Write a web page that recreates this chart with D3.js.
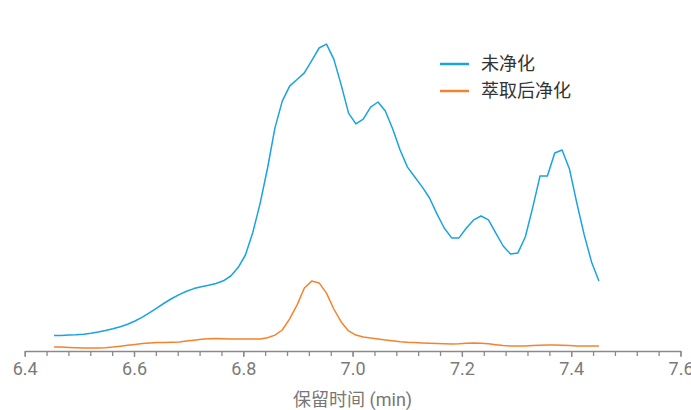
<!DOCTYPE html>
<html>
<head>
<meta charset="utf-8">
<script src="https://cdn.jsdelivr.net/npm/d3@7/dist/d3.min.js"></script>
<style>
  html, body { margin: 0; padding: 0; background: #fff; }
  svg { display: block; }
  text { font-family: Roboto, "Noto Sans CJK SC", "Noto Sans", sans-serif; }
</style>
</head>
<body>
<svg id="chart" width="691" height="410"></svg>
<script>
// Retention time (min) for each sampled point
const times = [
  6.4536, 6.4671, 6.4805, 6.4940, 6.5075, 6.5210, 6.5344, 6.5479, 6.5614, 6.5749,
  6.5883, 6.6018, 6.6153, 6.6288, 6.6422, 6.6557, 6.6692, 6.6827, 6.6961, 6.7096,
  6.7231, 6.7366, 6.7500, 6.7635, 6.7770, 6.7905, 6.8039, 6.8174, 6.8309, 6.8444,
  6.8578, 6.8713, 6.8848, 6.8983, 6.9117, 6.9252, 6.9387, 6.9522, 6.9656, 6.9791,
  6.9926, 7.0060, 7.0195, 7.0330, 7.0465, 7.0599, 7.0734, 7.0869, 7.1004, 7.1138,
  7.1273, 7.1408, 7.1543, 7.1677, 7.1812, 7.1947, 7.2082, 7.2216, 7.2351, 7.2486,
  7.2621, 7.2755, 7.2890, 7.3025, 7.3160, 7.3294, 7.3429, 7.3564, 7.3699, 7.3833,
  7.3968, 7.4103, 7.4238, 7.4372, 7.4507
];

// Signal of the untreated sample
const unpurified = [
  5.2, 5.2, 5.3, 5.4, 5.6, 5.9, 6.3, 6.8, 7.4, 8.1,
  8.9, 10.0, 11.3, 12.8, 14.4, 16.0, 17.5, 18.8, 19.9, 20.8,
  21.4, 21.9, 22.5, 23.4, 25.0, 27.8, 32.0, 39.5, 49.3, 61.0,
  74.3, 83.3, 88.3, 90.5, 92.7, 96.8, 101.0, 102.3, 97.3, 88.7,
  79.3, 75.7, 77.3, 81.3, 83.0, 80.0, 74.0, 67.0, 61.3, 58.0,
  54.7, 51.0, 45.7, 41.0, 37.7, 37.7, 41.0, 43.7, 45.0, 43.7,
  39.3, 35.0, 32.3, 32.7, 38.0, 47.7, 58.3, 58.3, 66.0, 67.0,
  60.7, 49.3, 38.7, 29.7, 23.3
];

// Signal after extraction clean-up
const purified = [
  1.3, 1.3, 1.2, 1.1, 1.0, 1.0, 1.0, 1.1, 1.3, 1.6,
  1.9, 2.2, 2.5, 2.7, 2.8, 2.8, 2.9, 3.0, 3.3, 3.6,
  3.9, 4.1, 4.2, 4.1, 4.0, 4.0, 4.0, 4.0, 4.0, 4.4,
  5.3, 7.0, 10.7, 15.3, 21.0, 23.3, 22.7, 19.3, 14.0, 9.7,
  6.7, 5.3, 4.7, 4.3, 4.0, 3.7, 3.4, 3.1, 2.9, 2.8,
  2.7, 2.6, 2.5, 2.4, 2.3, 2.4, 2.6, 2.7, 2.6, 2.4,
  2.1, 1.8, 1.7, 1.7, 1.7, 1.8, 1.9, 2.0, 2.0, 1.9,
  1.8, 1.7, 1.7, 1.7, 1.7
];

const seriesNames = ["未净化", "萃取后净化"];
const seriesColors = ["#1aa3e3", "#f5832d"];
const majorTicks = [6.4, 6.6, 6.8, 7.0, 7.2, 7.4, 7.6];
const xTitle = "保留时间 (min)";

const svg = d3.select("#chart");

const x = d3.scaleLinear().domain([6.4, 7.6]).range([24.7, 680.5]);
const y = d3.scaleLinear().domain([0, 100]).range([351, 51]);

// Minor ticks every 0.04 min
const minorTicks = d3.range(0, 31).map(i => 6.4 + i * 0.04);

const axisColor = "#8a8a8a";

const minorAxis = svg.append("g")
  .attr("transform", `translate(0,${y(0)})`)
  .call(d3.axisBottom(x).tickValues(minorTicks).tickSize(5).tickFormat(""));
minorAxis.select(".domain").remove();
minorAxis.selectAll("line").attr("stroke", axisColor).attr("stroke-width", 1.3);

const xAxis = svg.append("g")
  .attr("transform", `translate(0,${y(0)})`)
  .call(d3.axisBottom(x).tickValues(majorTicks).tickSize(6).tickPadding(5)
        .tickFormat(d3.format(".1f")).tickSizeOuter(0));
xAxis.select(".domain").attr("stroke", axisColor).attr("stroke-width", 1.5);
xAxis.selectAll(".tick line").attr("stroke", axisColor).attr("stroke-width", 1.3);
xAxis.selectAll(".tick text")
  .attr("fill", "#7a7a7a")
  .style("font-size", "18px")
  .style("font-family", "Roboto, sans-serif");

svg.append("text")
  .attr("x", x(7.0))
  .attr("y", 406)
  .attr("text-anchor", "middle")
  .attr("fill", "#777")
  .style("font-size", "18px")
  .text(xTitle);

const line = d3.line()
  .x(d => x(d[0]))
  .y(d => y(d[1]))
  .curve(d3.curveLinear);

[unpurified, purified].forEach((vals, k) => {
  svg.append("path")
    .datum(times.map((t, i) => [t, vals[i]]))
    .attr("fill", "none")
    .attr("stroke", seriesColors[k])
    .attr("stroke-width", 1.5)
    .attr("stroke-linejoin", "round")
    .attr("d", line);
});

// Legend
const legend = svg.append("g").attr("transform", "translate(440,64)");
seriesNames.forEach((name, k) => {
  const g = legend.append("g").attr("transform", `translate(0,${k * 27})`);
  g.append("line")
    .attr("x1", 0).attr("x2", 29)
    .attr("stroke", seriesColors[k])
    .attr("stroke-width", 2.5);
  g.append("text")
    .attr("x", 41)
    .attr("y", 0)
    .attr("dy", "0.35em")
    .attr("fill", "#333")
    .style("font-size", "18px")
    .style("font-family", "'Noto Sans CJK SC', sans-serif")
    .text(name);
});
</script>
</body>
</html>
